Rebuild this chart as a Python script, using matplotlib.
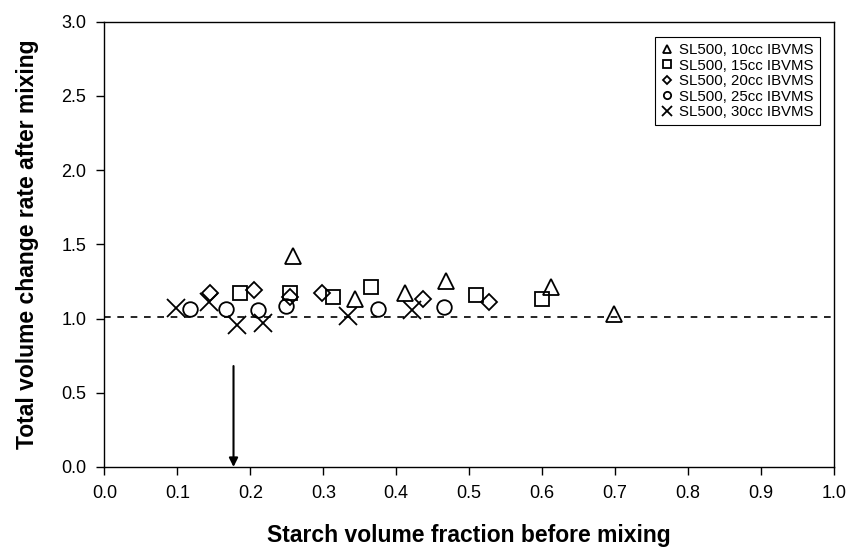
import matplotlib
matplotlib.use("Agg")
import matplotlib.pyplot as plt

# ── Data ─────────────────────────────────────────────────────────────────────
x_10cc = [0.259, 0.344, 0.412, 0.468, 0.612, 0.698]
y_10cc = [1.42, 1.13, 1.175, 1.255, 1.215, 1.03]

x_15cc = [0.186, 0.255, 0.314, 0.365, 0.509, 0.600]
y_15cc = [1.175, 1.17, 1.148, 1.215, 1.159, 1.132]

x_20cc = [0.145, 0.205, 0.254, 0.298, 0.436, 0.527]
y_20cc = [1.17, 1.19, 1.148, 1.17, 1.13, 1.114]

x_25cc = [0.117, 0.167, 0.210, 0.249, 0.375, 0.466]
y_25cc = [1.065, 1.065, 1.06, 1.085, 1.065, 1.08]

x_30cc = [0.098, 0.143, 0.182, 0.218, 0.334, 0.422]
y_30cc = [1.07, 1.11, 0.957, 0.968, 1.017, 1.058]

series = [
    ("SL500, 10cc IBVMS", x_10cc, y_10cc, "^"),
    ("SL500, 15cc IBVMS", x_15cc, y_15cc, "s"),
    ("SL500, 20cc IBVMS", x_20cc, y_20cc, "D"),
    ("SL500, 25cc IBVMS", x_25cc, y_25cc, "o"),
    ("SL500, 30cc IBVMS", x_30cc, y_30cc, "x"),
]

ref_level = 1.01
arrow_x = 0.177
arrow_top = 0.68

plt.rcParams.update({
    "font.family": "Liberation Sans",
    "font.size": 12,
    "axes.linewidth": 1.0,
})

fig = plt.figure(figsize=(8.56, 5.5), dpi=100)
ax = fig.add_axes([0.1219, 0.151, 0.8525, 0.8095])

sizes = {"^": 11.5, "s": 10.5, "D": 8, "o": 10.5, "x": 13}
for label, xs, ys, m in series:
    ax.plot(xs, ys, linestyle="none", marker=m, markersize=sizes[m],
            markerfacecolor="none", markeredgecolor="black",
            markeredgewidth=1.3, color="black", label=label)

# dashed reference line
ax.axhline(ref_level, color="black", linestyle=(0, (4, 4)), linewidth=1.2)

# arrow pointing to x axis
ax.annotate("", xy=(arrow_x, 0.0), xytext=(arrow_x, arrow_top),
            arrowprops=dict(arrowstyle="-|>", color="black", lw=1.5,
                            mutation_scale=13, shrinkA=0, shrinkB=0))

ax.set_xlim(0, 1.0)
ax.set_ylim(0, 3.0)
ax.set_xticks([i / 10 for i in range(11)])
ax.set_yticks([0, 0.5, 1.0, 1.5, 2.0, 2.5, 3.0])
ax.xaxis.set_major_formatter(matplotlib.ticker.FormatStrFormatter("%.1f"))
ax.yaxis.set_major_formatter(matplotlib.ticker.FormatStrFormatter("%.1f"))
ax.tick_params(direction="out", length=6, width=1.0, labelsize=13, pad=7)

ax.set_xlabel("Starch volume fraction before mixing", fontsize=16.5,
              fontweight="bold", labelpad=16)
ax.set_ylabel("Total volume change rate after mixing", fontsize=16.5,
              fontweight="bold", labelpad=16)

leg = ax.legend(loc="upper right", bbox_to_anchor=(0.9905, 0.982),
                fontsize=10.8, frameon=True, fancybox=False,
                edgecolor="black", framealpha=1.0, markerscale=0.5,
                handlelength=0.8, handletextpad=0.4, labelspacing=0.1,
                borderpad=0.4)
leg.get_frame().set_linewidth(0.8)

fig.savefig("out.png", dpi=100, facecolor="white")
